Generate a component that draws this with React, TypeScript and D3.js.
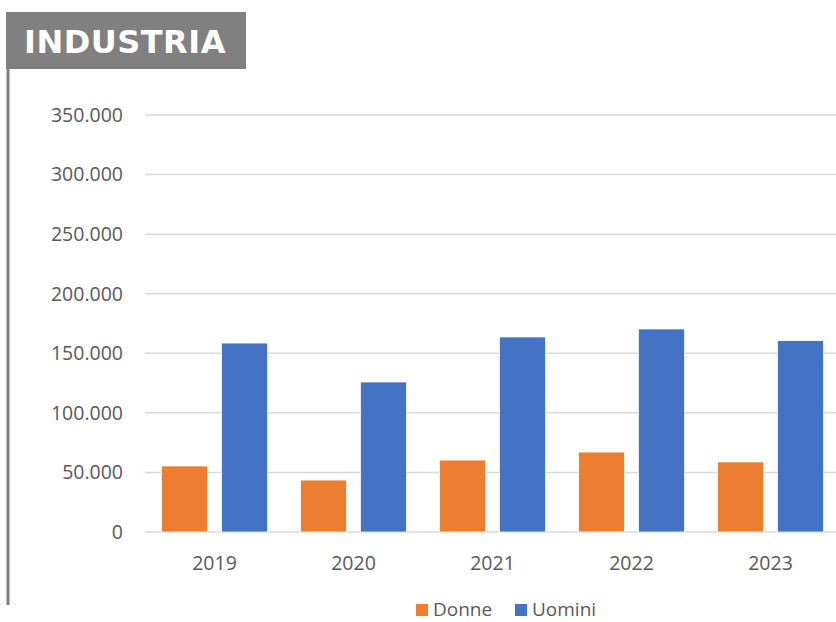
import React from "react";
import * as d3 from "d3";

const categories = ["2019", "2020", "2021", "2022", "2023"];
const donne = [55400, 43600, 60400, 67100, 58800];
const uomini = [158600, 125900, 163700, 170400, 160600];
const yTicks = [0, 50000, 100000, 150000, 200000, 250000, 300000, 350000];
const seriesNames = ["Donne", "Uomini"];
const seriesColors = ["#ED7D31", "#4472C4"];

const W = 836, H = 622;
const plotLeft = 145, plotRight = 840, plotTop = 115, plotBottom = 532;

const fmt = (v: number) => (v === 0 ? "0" : d3.format(",")(v).replace(/,/g, "."));

export default function App() {
  const x = d3.scaleBand().domain(categories).range([plotLeft, plotRight]).paddingInner(0.237).paddingOuter(0.1185);
  const xs = d3.scaleBand().domain(seriesNames).range([0, x.bandwidth()]).paddingInner(0.233);
  const y = d3.scaleLinear().domain([0, 350000]).range([plotBottom, plotTop]);
  const data = [donne, uomini];
  const font = "'Open Sans', 'Noto Sans', sans-serif";
  return (
    <svg width={W} height={H} style={{ position: "absolute", left: 0, top: 0, fontFamily: font }}>
      <rect x={0} y={0} width={W} height={H} fill="#fff" />
      {yTicks.map((t) => (
        <g key={t}>
          <line x1={plotLeft} x2={W} y1={y(t)} y2={y(t)} stroke="#D9D9D9" strokeWidth={1.5} />
          <text x={123} y={y(t)} dy="0.35em" textAnchor="end" fontSize={19.5} fill="#595959">{fmt(t)}</text>
        </g>
      ))}
      {categories.map((c, i) => (
        <g key={c}>
          {data.map((s, j) => (
            <rect key={j} x={(x(c) as number) + (xs(seriesNames[j]) as number)} y={y(s[i])}
              width={xs.bandwidth()} height={plotBottom - y(s[i])} fill={seriesColors[j]}
              stroke="#fff" strokeWidth={0.75} />
          ))}
          <text x={(x(c) as number) + x.bandwidth() / 2} y={570} textAnchor="middle" fontSize={19.5} fill="#595959">{c}</text>
        </g>
      ))}
      <line x1={8} x2={8} y1={60} y2={605} stroke="#808080" strokeWidth={3} />
      <rect x={6} y={12} width={240} height={57} fill="#808080" />
      <text x={24} y={53} fontSize={32} fontWeight="bold" fill="#fff" fontFamily="'DejaVu Sans', Verdana, sans-serif" letterSpacing={0.5}>INDUSTRIA</text>
      {seriesNames.map((n, j) => {
        const lx = [416, 515][j];
        return (
          <g key={n}>
            <rect x={lx} y={604} width={12} height={12} fill={seriesColors[j]} />
            <text x={lx + 17} y={609} dy="0.35em" fontSize={19} fill="#595959">{n}</text>
          </g>
        );
      })}
    </svg>
  );
}
